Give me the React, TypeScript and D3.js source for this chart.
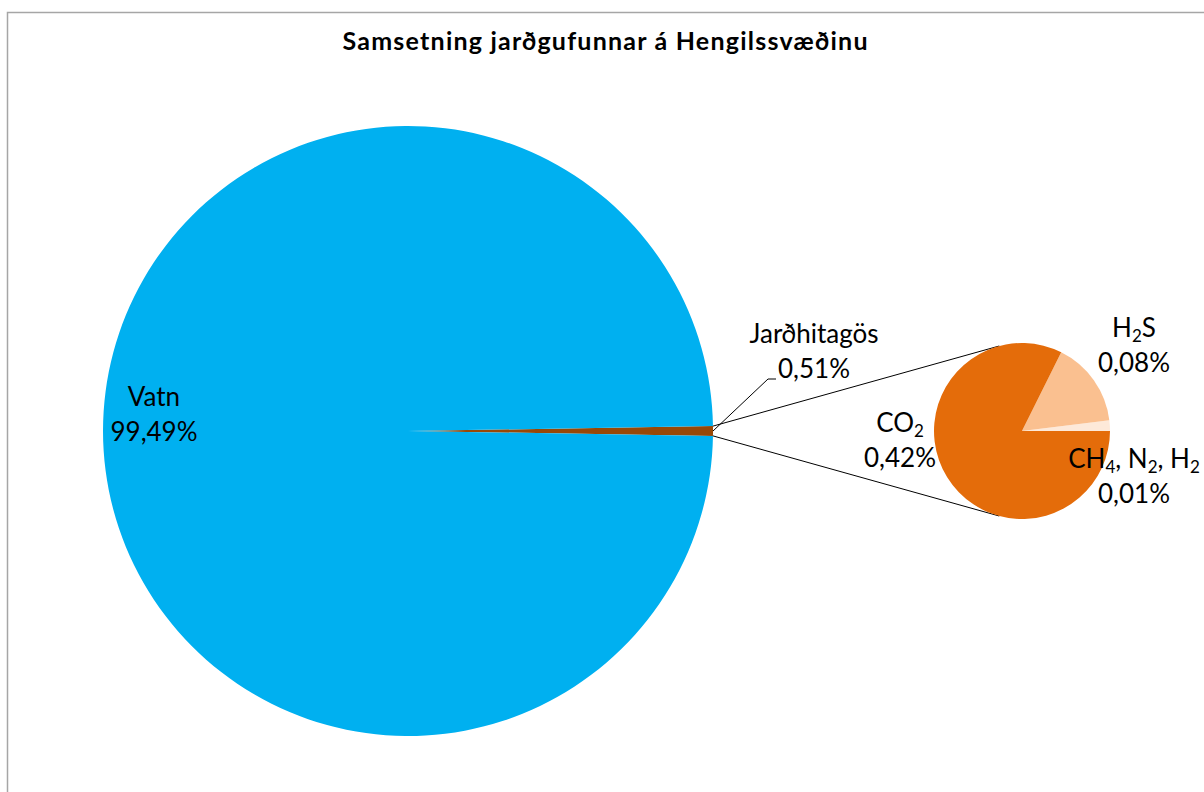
import * as d3 from 'd3'

type Part = { t: string; sub?: boolean }

// main pie
const mainNames = ['Jarðhitagös', 'Vatn']
const mainValues = [0.51, 99.49]
const mainColors = ['#984807', '#00B0F0']
const mainLabels: Part[][][] = [
  [[{ t: 'Jarðhitagös' }], [{ t: '0,51%' }]],
  [[{ t: 'Vatn' }], [{ t: '99,49%' }]],
]

// secondary pie (breakdown of jarðhitagös), counter-clockwise from 3 o'clock
const gasNames = ['CH4, N2, H2', 'H2S', 'CO2']
const gasValues = [0.01, 0.08, 0.42]
const gasColors = ['#FDE9D9', '#FAC090', '#E46C0A']
const gasLabels: Part[][][] = [
  [[{ t: 'CH' }, { t: '4', sub: true }, { t: ', N' }, { t: '2', sub: true }, { t: ', H' }, { t: '2', sub: true }], [{ t: '0,01%' }]],
  [[{ t: 'H' }, { t: '2', sub: true }, { t: 'S' }], [{ t: '0,08%' }]],
  [[{ t: 'CO' }, { t: '2', sub: true }], [{ t: '0,42%' }]],
]

const title = 'Samsetning jarðgufunnar á Hengilssvæðinu'

const W = 1204
const H = 792
const FONT = 'Lato, "Open Sans", sans-serif'
const FS = 26

function Label({ x, y, lines }: { x: number; y: number; lines: Part[][] }) {
  return (
    <text x={x} y={y} textAnchor="middle" fontFamily={FONT} fontSize={FS} fill="#000">
      {lines.map((line, i) => (
        <tspan key={i} x={x} y={y + i * 35}>
          {line.map((p, j) => {
            const prev = j > 0 && line[j - 1].sub
            const dy = p.sub ? 5 : prev ? -5 : 0
            return (
              <tspan key={j} dy={dy} fontSize={p.sub ? 17 : FS}>
                {p.t}
              </tspan>
            )
          })}
        </tspan>
      ))}
    </text>
  )
}

export default function App() {
  const cx = 408
  const cy = 431
  const r = 305

  const scx = 1022
  const scy = 431
  const sr = 88

  const total = d3.sum(mainValues)
  const half = (mainValues[0] / total) * Math.PI
  const mainPie = d3.pie<number>().sort(null).startAngle(Math.PI / 2 - half).endAngle(Math.PI / 2 - half + 2 * Math.PI)
  const mainArcs = mainPie(mainValues)
  const arc = d3.arc<d3.PieArcDatum<number>>().innerRadius(0).outerRadius(r)

  const gasPie = d3.pie<number>().sort(null).startAngle(Math.PI / 2).endAngle(Math.PI / 2 - 2 * Math.PI)
  const gasArcs = gasPie(gasValues)
  const sArc = d3.arc<d3.PieArcDatum<number>>().innerRadius(0).outerRadius(sr)

  // connector lines: edges of the small slice -> secondary pie
  const a0 = mainArcs[0].startAngle
  const a1 = mainArcs[0].endAngle
  const p0: [number, number] = [cx + r * Math.sin(a0), cy - r * Math.cos(a0)]
  const p1: [number, number] = [cx + r * Math.sin(a1), cy - r * Math.cos(a1)]
  const phi = (105 * Math.PI) / 180
  const q0: [number, number] = [scx + sr * Math.cos(phi), scy - sr * Math.sin(phi)]
  const q1: [number, number] = [scx + sr * Math.cos(phi), scy + sr * Math.sin(phi)]

  const mainLabelPos: [number, number][] = [[814, 343], [154, 406]]
  const gasLabelPos: [number, number][] = [[1134, 468], [1134, 337], [900, 432]]

  const leader = d3.line()([[cx + r, cy], [768, 379], [776, 379]])

  return (
    <svg width={W} height={H} style={{ position: 'absolute', left: 0, top: 0, background: '#fff' }}>
      <rect x={7.5} y={12.5} width={W + 20} height={H + 20} fill="#fff" stroke="#a6a6a6" strokeWidth={1.5} />
      <text
        x={605}
        y={50}
        textAnchor="middle"
        fontFamily={FONT}
        fontWeight="bold"
        fontSize={25}
        textLength={525}
        lengthAdjust="spacing"
        fill="#000"
      >
        {title}
      </text>

      <g transform={`translate(${cx},${cy})`}>
        {mainArcs.map((d, i) => (
          <path key={mainNames[i]} d={arc(d) || ''} fill={mainColors[i]} />
        ))}
      </g>

      <line x1={p0[0]} y1={p0[1]} x2={q0[0]} y2={q0[1]} stroke="#000" strokeWidth={1} />
      <line x1={p1[0]} y1={p1[1]} x2={q1[0]} y2={q1[1]} stroke="#000" strokeWidth={1} />

      <g transform={`translate(${scx},${scy})`}>
        {gasArcs.map((d, i) => (
          <path key={gasNames[i]} d={sArc(d) || ''} fill={gasColors[i]} />
        ))}
      </g>

      <path d={leader || ''} fill="none" stroke="#000" strokeWidth={1} />

      {mainLabels.map((l, i) => (
        <Label key={i} x={mainLabelPos[i][0]} y={mainLabelPos[i][1]} lines={l} />
      ))}
      {gasLabels.map((l, i) => (
        <Label key={i} x={gasLabelPos[i][0]} y={gasLabelPos[i][1]} lines={l} />
      ))}
    </svg>
  )
}
